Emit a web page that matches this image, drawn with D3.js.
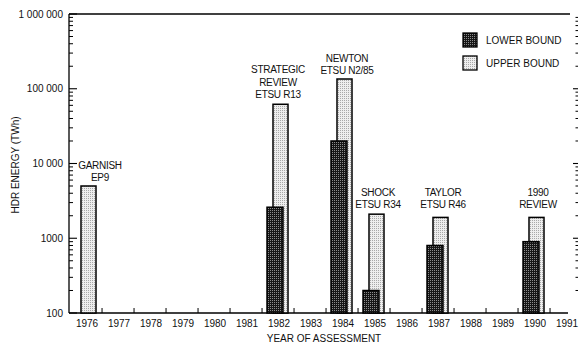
<!DOCTYPE html>
<html>
<head>
<meta charset="utf-8">
<script src="https://cdn.jsdelivr.net/npm/d3@7"></script>
<style>
  html, body { margin: 0; padding: 0; background: #fff; }
  svg { display: block; font-family: "Liberation Sans", Arial, sans-serif; }
  text { fill: #111; font-size: 10px; }
</style>
</head>
<body>
<svg id="chart" width="579" height="344"></svg>
<script>
// Year of each assessment and the HDR energy estimates (TWh)
const years = [1976, 1982, 1984, 1985, 1987, 1990];
const lowerBound = [null, 2600, 20000, 200, 800, 900];
const upperBound = [5000, 62000, 135000, 2100, 1900, 1900];
const studyLabels = [
  ["GARNISH", "EP9"],
  ["STRATEGIC", "REVIEW", "ETSU R13"],
  ["NEWTON", "ETSU N2/85"],
  ["SHOCK", "ETSU R34"],
  ["TAYLOR", "ETSU R46"],
  ["1990", "REVIEW"]
];
const xTickYears = d3.range(1976, 1992);
const yTickValues = [100, 1000, 10000, 100000, 1000000];
const yTickLabels = ["100", "1000", "10 000", "100 000", "1 000 000"];
const legendLabels = ["LOWER BOUND", "UPPER BOUND"];

const svg = d3.select("#chart");
const plotLeft = 69, plotRight = 572, plotTop = 14, plotBottom = 313;

const x = d3.scaleLinear().domain([1976, 1991]).range([87, 567]);
const y = d3.scaleLog().domain([100, 1000000]).range([plotBottom, plotTop]);

// Stippled fills
const defs = svg.append("defs");
const dark = defs.append("pattern").attr("id", "darkDots")
  .attr("width", 2).attr("height", 2).attr("patternUnits", "userSpaceOnUse");
dark.append("rect").attr("width", 2).attr("height", 2).attr("fill", "#161616");
dark.append("rect").attr("width", 1).attr("height", 1).attr("fill", "#8c8c8c");
const light = defs.append("pattern").attr("id", "lightDots")
  .attr("width", 2).attr("height", 2).attr("patternUnits", "userSpaceOnUse");
light.append("rect").attr("width", 2).attr("height", 2).attr("fill", "#eeeeee");
light.append("rect").attr("width", 1).attr("height", 1).attr("fill", "#a8a8a8");

// Frame: left axis and top rule
svg.append("line").attr("x1", plotLeft).attr("x2", plotLeft).attr("y1", plotTop).attr("y2", plotBottom)
  .attr("stroke", "#000").attr("stroke-width", 1.3);
svg.append("line").attr("x1", plotLeft).attr("x2", plotRight - 2).attr("y1", plotTop).attr("y2", plotTop)
  .attr("stroke", "#000").attr("stroke-width", 1.3);

// Log ticks (majors and 2..9 minors) on left and right edges
const minorVals = [];
for (let d = 100; d < 1000000; d *= 10) for (let k = 2; k <= 9; k++) minorVals.push(d * k);

const leftTicks = svg.append("g");
leftTicks.selectAll("line.maj").data(yTickValues).join("line").attr("class", "maj")
  .attr("x1", plotLeft).attr("x2", plotLeft + 8).attr("y1", d => y(d)).attr("y2", d => y(d))
  .attr("stroke", "#000").attr("stroke-width", 1.1);
leftTicks.selectAll("line.min").data(minorVals).join("line").attr("class", "min")
  .attr("x1", plotLeft).attr("x2", plotLeft + 4).attr("y1", d => y(d)).attr("y2", d => y(d))
  .attr("stroke", "#000").attr("stroke-width", 1);
svg.append("g").selectAll("text").data(yTickValues).join("text")
  .attr("x", 63).attr("y", d => y(d) + 3.5).attr("text-anchor", "end")
  .text((d, i) => yTickLabels[i]);

const rightTicks = svg.append("g");
rightTicks.selectAll("line.maj").data(yTickValues.slice(1, 4)).join("line").attr("class", "maj")
  .attr("x1", 578).attr("x2", 573).attr("y1", d => y(d)).attr("y2", d => y(d))
  .attr("stroke", "#000").attr("stroke-width", 1.1);
rightTicks.selectAll("line.min").data(minorVals).join("line").attr("class", "min")
  .attr("x1", 578).attr("x2", 575.5).attr("y1", d => y(d)).attr("y2", d => y(d))
  .attr("stroke", "#000").attr("stroke-width", 1);

// Bottom axis with ticks at year boundaries
svg.append("line").attr("x1", plotLeft).attr("x2", plotRight - 4).attr("y1", plotBottom).attr("y2", plotBottom)
  .attr("stroke", "#000").attr("stroke-width", 1.3);
svg.append("g").selectAll("line").data(xTickYears.slice(0, -1)).join("line")
  .attr("x1", d => x(d + 0.47)).attr("x2", d => x(d + 0.47))
  .attr("y1", plotBottom).attr("y2", plotBottom - 5)
  .attr("stroke", "#000").attr("stroke-width", 1);
svg.append("g").selectAll("text").data(xTickYears).join("text")
  .attr("x", d => x(d)).attr("y", 327).attr("text-anchor", "middle")
  .text(d => d);

// Bars: upper bound behind, lower bound in front
const bars = years.map((yr, i) => ({ yr, lo: lowerBound[i], hi: upperBound[i] }));
svg.append("g").selectAll("rect").data(bars).join("rect")
  .attr("x", d => x(d.yr) - 6).attr("width", 15)
  .attr("y", d => y(d.hi)).attr("height", d => plotBottom - y(d.hi))
  .attr("fill", "url(#lightDots)").attr("stroke", "#000").attr("stroke-width", 1.5);
svg.append("g").selectAll("rect").data(bars.filter(d => d.lo !== null)).join("rect")
  .attr("x", d => x(d.yr) - 12).attr("width", 16)
  .attr("y", d => y(d.lo)).attr("height", d => plotBottom - y(d.lo))
  .attr("fill", "url(#darkDots)").attr("stroke", "#000").attr("stroke-width", 1.5);

// Study annotations above each pair of bars
const labelShift = { 1976: 13, 1982: -1, 1984: 4, 1985: 3, 1987: 4, 1990: 3 };
const labelLift = { 1976: 5, 1982: 6, 1984: 5, 1985: 6, 1987: 9, 1990: 9 };
years.forEach((yr, i) => {
  const lines = studyLabels[i];
  const base = y(upperBound[i]) - labelLift[yr];
  const g = svg.append("g");
  lines.forEach((t, j) => {
    g.append("text")
      .attr("x", x(yr) + labelShift[yr])
      .attr("y", base - (lines.length - 1 - j) * 12.5)
      .attr("text-anchor", "middle")
      .attr("letter-spacing", -0.3)
      .text(t);
  });
});

// Legend
const legend = svg.append("g");
legendLabels.forEach((t, i) => {
  legend.append("rect").attr("x", 463).attr("y", 33 + i * 23).attr("width", 14).attr("height", 14)
    .attr("fill", i === 0 ? "url(#darkDots)" : "url(#lightDots)")
    .attr("stroke", "#000").attr("stroke-width", 1.3);
  legend.append("text").attr("x", 486).attr("y", 44 + i * 23).text(t);
});

// Axis titles
svg.append("text").attr("x", 324).attr("y", 342).attr("text-anchor", "middle")
  .text("YEAR OF ASSESSMENT");
svg.append("text").attr("transform", "translate(19,165) rotate(-90)")
  .attr("text-anchor", "middle").text("HDR ENERGY (TWh)");
</script>
</body>
</html>
